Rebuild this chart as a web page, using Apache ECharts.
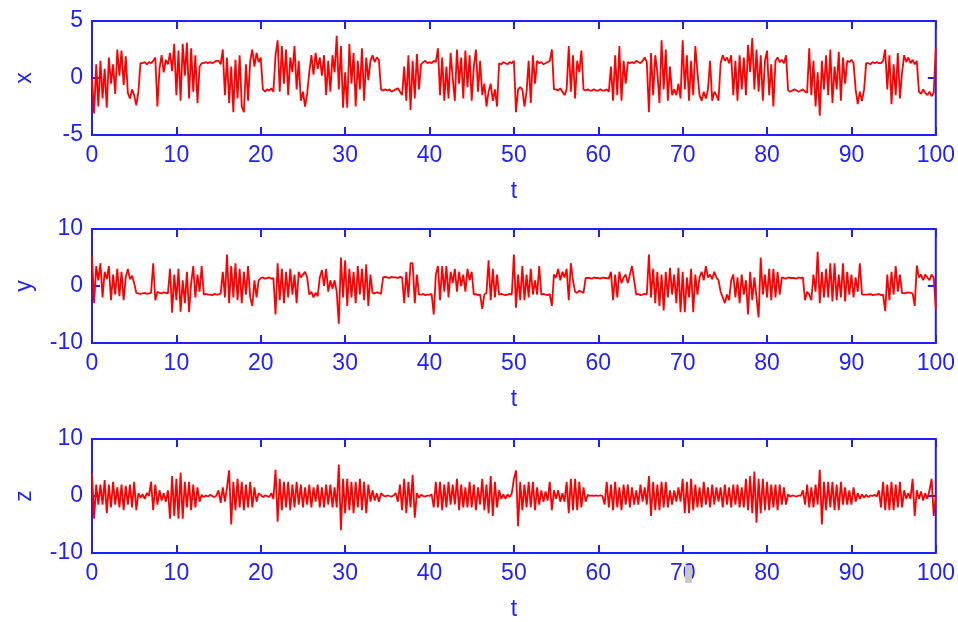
<!DOCTYPE html>
<html><head><meta charset="utf-8">
<script src="https://cdn.jsdelivr.net/npm/echarts@6/dist/echarts.min.js"></script>
<style>html,body{margin:0;padding:0;background:#fff}#c{width:958px;height:622px}</style>
</head><body><div id="c"></div>
<script>
// sampling step of t (time axis)
const tStep = 0.25;
const xTicks = [0,10,20,30,40,50,60,70,80,90,100];
const seriesNames = ['x','y','z'];
const yRanges = [[-5,5,5],[-10,10,10],[-10,10,10]];

const xVals = [
0,-3.1,1.2,-2.5, 1.5,-1.8,0.8,-2.6, 1.8,-0.5,1.2,-1.4, 2.5,0.2,2.4,-0.6, 1.9,-1.3,-1.8,-1.0,
-1.5,-2.4,-1.2,1.3, 1.3,1.4,1.2,1.4, 1.3,1.5,1.8,-2.5, 0.8,2.0,0.5,1.6, 1.2,2.2,0.6,3.0,
-1.5,2.4,-2.0,3.0, 0.2,3.1,-1.8,2.6, -1.2,2.0,-2.2,1.0, 1.3,1.3,1.4,1.3, 1.4,1.3,1.4,1.5,
1.5,1.2,2.5,-1.5, 1.8,-2.2,1.0,-3.0, 1.6,-1.8,2.0,-2.5, -3.0,1.2,-2.0,1.5, 2.5,1.0,2.2,1.4,
1.8,-1.0,-1.2,-1.0, -1.1,-0.9,-1.2,2.0, 3.3,-1.2,2.8,-0.5, 2.5,-1.5,1.8,0.5, 2.8,-1.0,1.5,-2.0,
-1.2,-2.5,-1.4,0.5, 2.0,0.3,2.2,0.8, 1.8,0.2,2.0,-1.5, 1.5,-1.2,2.0,0.5, 3.7,-1.0,2.8,-2.6,
0.5,-2.6,3.0,-0.5, 2.2,-2.5,1.5,-1.0, 2.6,-2.0,1.8,-0.2, 1.5,2.0,1.4,1.8, 1.6,-1.0,-1.1,-1.0,
-1.1,-1.0,-1.2,-1.1, -1.0,-0.9,-1.2,-1.5, 1.0,-2.0,2.0,-2.8, 1.5,-1.8,2.1,-1.0, 1.2,1.4,1.5,1.3,
1.4,1.3,1.5,1.4, 2.6,-1.5,1.8,-2.0, 1.0,-1.8,2.2,0.0, -2.0,2.5,-0.5,1.8, -1.8,2.4,-0.8,2.0,
-2.0,1.0,2.5,-1.2, 1.5,-1.5,-0.5,-2.5, -1.2,-0.5,-2.0,-1.0, -2.5,1.3,1.2,1.4, 1.3,1.2,1.4,1.3,
1.5,-3.0,-1.0,-0.8, -1.0,-2.5,-1.2,1.5, -2.2,2.0,-0.5,1.5, 1.3,1.4,1.2,1.3, 1.4,1.5,2.5,-1.0,
-1.0,-1.1,-0.9,-1.2, -1.5,-1.0,2.8,-1.2, 2.0,-1.8,1.5,0.5, 2.4,-1.0,-1.1,-1.0, -1.1,-1.1,-1.0,-1.1,
-1.1,-1.0,-1.1,-1.1, -1.0,-1.2,1.0,-2.0, 2.0,-1.5,2.8,-2.0, 1.5,-0.5,1.4,1.3, 1.4,1.3,1.5,1.4,
1.3,1.5,1.8,1.4, -3.0,2.2,-1.5,2.0, 0.5,-2.2,3.3,-1.0, 2.5,-2.0,1.0,-1.5, -1.0,-1.5,-0.5,-1.8,
3.3,-1.0,2.0,-2.0, 1.5,-1.5,2.8,0.5, -1.5,-2.0,-1.2,-1.8, -1.0,1.5,-2.0,-1.2, -1.5,-2.0,1.3,2.0,
1.5,1.8,1.3,2.0, -1.5,1.5,-2.0,2.0, -1.0,1.8,-1.5,2.9, 0.5,3.5,-1.0,2.5, -1.2,2.0,-2.0,1.5,
2.4,-1.5,1.2,-2.5, 1.5,1.8,1.4,1.6, 1.3,2.0,-1.1,-1.2, -1.1,-1.0,-1.1,-1.2, -1.1,-1.0,-1.2,-1.3,
2.6,-1.5,1.5,-2.5, 0.5,-3.3,1.5,-1.0, 2.0,-1.5,2.5,-2.2, 1.0,-1.0,2.3,-2.0, 1.8,-0.5,1.5,1.4,
1.6,1.3,-1.0,-2.3, -1.2,-2.0,-1.0,1.3, 1.3,1.2,1.4,1.3, 1.4,1.3,1.3,1.5, 2.5,-1.0,2.0,-2.3,
1.2,-1.5,2.2,-1.8, 0.5,2.0,1.4,1.8, 1.3,1.6,1.2,1.5, -1.2,-1.4,-1.0,-1.3, -1.5,-1.2,-1.6,-1.3,
2.6
];

const yVals = [
5.3,-3.0,3.5,1.0, 4.0,-2.0,2.5,1.2, 3.5,-2.5,2.0,-1.5, 3.0,-1.8,2.5,-2.5, 1.5,3.0,1.2,1.8,
0.5,-1.2,-1.3,-1.4, -1.3,-1.2,-1.4,-1.3, -1.2,4.0,-2.5,-1.0, -1.2,-1.3,-1.1,-1.2, -1.3,3.0,-4.7,2.0,
-2.5,3.0,-4.5,1.0, -3.0,2.5,-4.6,0.5, 3.5,-2.0,2.0,-1.0, 3.5,-1.5,-1.4,-1.5, -1.5,-1.6,-1.4,-1.5,
-1.5,-1.3,2.5,-2.0, 5.5,-3.0,3.5,-2.0, 4.0,-2.5,3.0,-3.0, 2.5,-1.5,3.5,-2.0, -3.5,1.0,-2.0,1.0,
1.4,1.5,1.3,1.4, 1.5,1.3,1.4,-5.0, 4.0,-2.5,3.0,-3.0, 2.5,-2.0,3.0,-1.5, 2.0,-3.0,2.5,1.5,
2.0,2.5,1.5,-1.5, -1.0,-2.0,-1.2,-1.8, 1.5,2.8,0.0,3.0, -1.0,1.0,-0.5,1.0, -1.0,-6.6,5.0,-2.0,
4.5,-3.5,3.0,-2.0, 2.5,-3.0,3.5,-1.5, 3.0,-2.5,3.8,-3.5, 2.0,-1.2,-1.3,-1.1, -1.2,-1.4,1.5,1.6,
1.5,1.4,1.6,1.5, 1.5,1.4,1.6,1.5, -3.0,2.5,-2.0,4.0, 4.0,-3.0,2.0,-1.5, -1.5,-1.4,-1.6,-1.5,
-1.5,-1.4,-5.0,2.0, 3.5,-2.5,3.5,-1.0, 3.5,-2.0,2.5,0.5, 3.0,-1.0,2.5,0.0, 2.0,-1.0,3.0,1.0,
2.5,-1.5,-1.4,-1.6, -1.5,-4.0,-1.5,-1.2, 4.5,-2.5,3.0,-2.0, 2.0,-1.5,-1.4,-1.5, -1.6,-1.5,-1.4,-1.5,
5.5,-3.8,2.0,-2.5, 3.5,-2.5,2.0,-2.0, 3.0,-1.5,1.0,-1.5, 3.5,-1.5,-1.4,-1.5, -1.6,-1.4,-3.5,2.0,
1.5,3.0,1.0,2.5, 1.5,3.0,-2.5,4.0, 1.0,-1.0,-1.2,-0.8, -1.0,-1.2,1.4,1.4, 1.4,1.3,1.5,1.4,
1.4,1.3,1.5,1.4, 1.4,1.3,2.5,-2.5, 2.0,-2.0,2.5,0.5, 1.5,2.0,0.5,2.0, 3.5,1.0,-1.5,-1.4,
-1.6,-1.5,-1.4,-1.5, 5.5,-2.0,3.0,-3.0, 2.5,-3.5,2.0,-4.3, 2.5,-2.0,3.2,-1.5, 2.0,-3.0,3.2,-4.6,
2.5,-4.6,1.5,-2.0, 3.0,-4.6,2.0,-1.5, 1.5,2.5,1.0,3.5, 1.5,2.0,1.2,2.5, 1.5,1.0,-1.0,-2.0,
-3.0,-1.5,-2.5,1.0, 2.0,-2.0,1.5,-3.0, 2.0,-1.5,1.0,-5.0, 2.5,-2.5,1.5,-2.0, -5.5,5.0,-1.5,2.0,
-2.0,3.0,-2.5,3.0, -2.0,2.5,-1.5,1.5, 1.4,1.3,1.5,1.4, 1.4,1.4,1.3,1.5, 1.4,1.5,-2.5,-1.0,
-1.5,-2.5,2.0,-1.0, 6.0,-3.0,2.5,-2.0, 3.0,-2.0,4.0,-2.7, 4.0,-2.5,2.0,-2.0, 4.0,-2.7,2.5,-1.5,
2.0,-2.0,1.5,-1.0, 4.0,-1.5,-1.5,-1.5, -1.5,-1.4,-1.6,-1.5, -1.5,-1.4,-1.6,-1.5, -4.4,2.0,-2.5,2.5,
-1.5,3.5,-1.0,2.0, -1.2,-1.3,-1.2,-1.1, -1.2,-1.3,-3.5,3.6, 1.5,2.0,1.0,2.0, 1.5,1.0,2.0,1.5,
-4.0
];

const zVals = [
4.0,-4.0,2.0,-1.5, 2.0,-1.5,2.8,-3.0, 2.0,-2.0,2.5,-1.5, 1.5,-2.0,2.0,-2.5, 1.8,-1.5,2.0,-2.0,
2.5,-2.5,0.5,-0.3, 0.3,-0.5,0.5,0.0, 2.5,-2.5,2.0,-1.5, 1.0,-0.8,0.5,-1.0, 1.0,-4.0,3.5,-3.5,
3.0,-4.0,4.1,-4.0, 2.5,-2.0,2.5,-2.5, 2.0,-2.0,1.5,-1.0, 0.2,-0.2,0.1,-0.1, 0.2,0.0,-0.2,0.1,
1.0,-1.2,1.5,-1.0, 1.5,4.5,-5.0,2.5, -2.5,3.0,-2.0,2.5, -2.5,2.0,-2.0,2.5, -2.0,1.5,-1.0,0.5,
0.2,-0.2,0.1,0.0, -0.2,0.5,-0.5,4.6, -4.5,3.0,-2.5,2.5, -2.0,2.5,-2.5,2.0, -2.0,2.5,-1.5,2.0,
-2.0,1.5,-1.5,2.0, -2.0,1.5,-1.0,2.0, -2.0,1.5,-2.0,2.0, -1.5,2.0,-2.0,1.5, -2.0,5.5,-6.0,3.0,
-3.0,3.0,-2.5,2.5, -3.0,2.5,-2.0,3.0, -2.5,2.5,-3.0,2.0, -1.0,1.0,-0.8,0.5, -1.0,0.5,0.1,-0.1,
0.1,0.0,-0.1,0.1, 0.5,-1.0,2.0,-2.5, 3.0,-3.0,2.5,-2.0, 3.7,-3.8,0.5,-0.3, 0.2,0.0,-0.1,0.1,
0.0,0.3,-2.0,2.5, -2.0,2.5,-2.5,2.0, -2.0,2.5,-1.5,2.0, -1.5,3.0,-2.5,2.0, -2.0,1.5,-2.0,2.5,
-2.0,2.0,-2.5,1.5, -1.5,3.0,-2.5,2.0, -3.0,3.5,-3.5,2.5, -2.0,1.0,-0.5,0.3, -0.5,0.3,-0.2,0.5,
3.0,4.5,-5.3,2.5, -2.5,2.0,-2.0,2.5, -2.0,2.5,-2.5,1.5, -1.5,1.0,-1.0,0.8, -0.8,2.5,-2.5,1.0,
-0.5,1.0,-1.0,0.5, -1.0,2.5,-3.0,3.0, -2.5,3.0,-2.5,2.5, -2.0,1.5,-1.0,0.2, 0.0,0.1,0.0,0.1,
0.0,0.1,0.0,-1.5, 2.5,-2.0,2.0,-2.5, 2.5,-2.0,1.5,-2.5, 2.0,-1.5,2.0,-2.0, 1.5,-1.5,1.0,-1.5,
2.0,-1.0,1.5,-1.5, 3.5,-3.5,2.5,-2.5, 2.0,-2.5,2.5,-2.0, 2.5,-2.0,1.0,-1.5, 1.0,-1.0,1.5,-1.0,
3.0,-3.0,2.5,-3.0, 3.0,-2.5,2.0,-2.0, 1.5,-2.0,2.5,-1.5, 1.5,-2.0,2.0,-1.5, 1.5,-1.0,1.5,-2.0,
2.0,-1.5,1.5,-2.0, 2.0,-1.5,2.0,-2.0, 1.5,-2.0,3.0,-2.5, 3.5,-3.0,4.3,-4.7, 3.0,-3.0,3.0,-2.5,
2.5,-2.5,2.0,-2.0, 2.0,-2.5,2.0,-1.5, 1.5,-1.5,0.3,-0.1, 0.1,0.0,-0.1,0.1, 0.0,1.0,-1.5,2.0,
-2.0,1.5,-2.0,2.0, -1.5,4.6,-5.0,2.5, -2.5,2.5,-2.0,2.5, -2.5,2.0,-2.5,2.5, -1.5,1.5,-1.5,1.0,
-1.5,1.5,-1.0,0.5, -0.5,0.3,-0.3,0.2, -0.2,0.1,0.0,0.2, -0.1,1.0,-2.0,2.5, -2.5,2.0,-2.5,2.5,
-2.5,2.0,-2.0,2.5, -2.0,1.0,-0.5,0.5, -0.5,3.0,-3.5,1.0, -0.5,0.8,-0.8,0.5, -0.5,1.0,3.0,-3.5,
0.0
];

const allVals = [xVals, yVals, zVals];
const BLUE = '#1f1fff';
const RED = '#ff0000';
const FONT = 'Liberation Sans, Arial, sans-serif';
const tops = [21, 229, 439];
const H = 114;

const tickStyle = {show: true, inside: true, length: 8, lineStyle: {color: BLUE, width: 2}};
const grid = [], xAxis = [], yAxis = [], series = [];
tops.forEach((top, i) => {
  grid.push({left: 92, right: 22, top: top, height: H, show: true, borderColor: BLUE, borderWidth: 2, backgroundColor: '#fff'});
  xAxis.push({
    type: 'value', gridIndex: i, min: 0, max: 100, interval: 10, position: 'bottom',
    name: 't', nameLocation: 'middle', nameGap: 45,
    nameTextStyle: {color: BLUE, fontSize: 23, fontFamily: FONT},
    axisLine: {show: false, onZero: false}, splitLine: {show: false},
    axisTick: tickStyle,
    axisLabel: {color: BLUE, fontSize: 23, fontFamily: FONT, margin: 9,
      formatter: v => xTicks.includes(v) ? String(v) : ''}
  });
  xAxis.push({
    type: 'value', gridIndex: i, min: 0, max: 100, interval: 10, position: 'top',
    axisLine: {show: false, onZero: false}, splitLine: {show: false}, axisLabel: {show: false},
    axisTick: tickStyle
  });
  const r = yRanges[i];
  yAxis.push({
    type: 'value', gridIndex: i, min: r[0], max: r[1], interval: r[2], position: 'left',
    name: seriesNames[i], nameLocation: 'middle', nameGap: 56, nameRotate: 90,
    nameTextStyle: {color: BLUE, fontSize: 23, fontFamily: FONT},
    axisLine: {show: false, onZero: false}, splitLine: {show: false},
    axisTick: tickStyle,
    axisLabel: {color: BLUE, fontSize: 23, fontFamily: FONT, margin: 9}
  });
  yAxis.push({
    type: 'value', gridIndex: i, min: r[0], max: r[1], interval: r[2], position: 'right',
    axisLine: {show: false, onZero: false}, splitLine: {show: false}, axisLabel: {show: false},
    axisTick: tickStyle
  });
  series.push({
    type: 'line', xAxisIndex: i * 2, yAxisIndex: i * 2,
    showSymbol: false, symbol: 'none', animation: false, z: 1,
    lineStyle: {color: RED, width: 1.8},
    data: allVals[i].map((v, k) => [k * tStep, v])
  });
});

const chart = echarts.init(document.getElementById('c'), null, {renderer: 'canvas'});
chart.setOption({
  animation: false,
  backgroundColor: '#fff',
  grid, xAxis, yAxis, series,
  graphic: [{type: 'rect', shape: {x: 685, y: 565, width: 7, height: 18}, style: {fill: '#c8c8c8'}, z: 100}]
});
</script>
</body></html>
